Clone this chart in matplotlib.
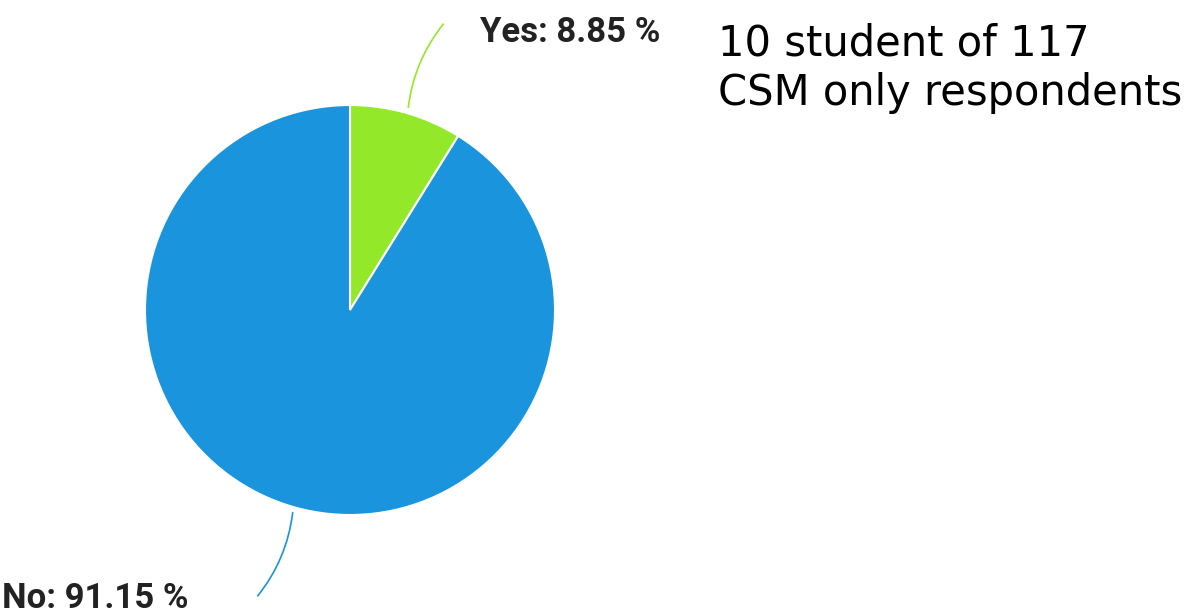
import matplotlib
matplotlib.use("Agg")
import matplotlib.pyplot as plt
from matplotlib.patches import FancyArrowPatch

labels = ["Yes", "No"]
values = [8.85, 91.15]
colors = ["#94e82a", "#1b94de"]
note_lines = ["10 student of 117", "CSM only respondents"]

W, H = 1191, 616
fig = plt.figure(figsize=(W / 100, H / 100), dpi=100)
ax = fig.add_axes([0, 0, 1, 1])

cx, cy, r = 350, H - 310, 205
ax.pie(values, colors=colors, startangle=90, counterclock=False,
       center=(cx, cy), radius=r, frame=True,
       wedgeprops=dict(linewidth=1.5, edgecolor="white"))
ax.set_xlim(0, W)
ax.set_ylim(0, H)
ax.set_aspect("equal")
ax.axis("off")

# leader lines
ax.add_patch(FancyArrowPatch((408, H - 110), (445, H - 22),
                             connectionstyle="arc3,rad=-0.15", arrowstyle="-",
                             color=colors[0], lw=1.2))
ax.add_patch(FancyArrowPatch((293, H - 510), (256, H - 598),
                             connectionstyle="arc3,rad=-0.15", arrowstyle="-",
                             color=colors[1], lw=1.2))

ax.text(480, H - 33, f"{labels[0]}: {values[0]:.2f} %", fontsize=25,
        fontweight="bold", color="#222222", family="Roboto",
        va="center", ha="left")
ax.text(2, H - 598, f"{labels[1]}: {values[1]:.2f} %", fontsize=25,
        fontweight="bold", color="#222222", family="Roboto",
        va="center", ha="left")

ax.text(718, H - 55, note_lines[0], fontsize=30, color="black",
        family="DejaVu Sans", va="baseline", ha="left")
ax.text(718, H - 105, note_lines[1], fontsize=30, color="black",
        family="DejaVu Sans", va="baseline", ha="left")

fig.savefig("out.png", dpi=100, facecolor="white")
